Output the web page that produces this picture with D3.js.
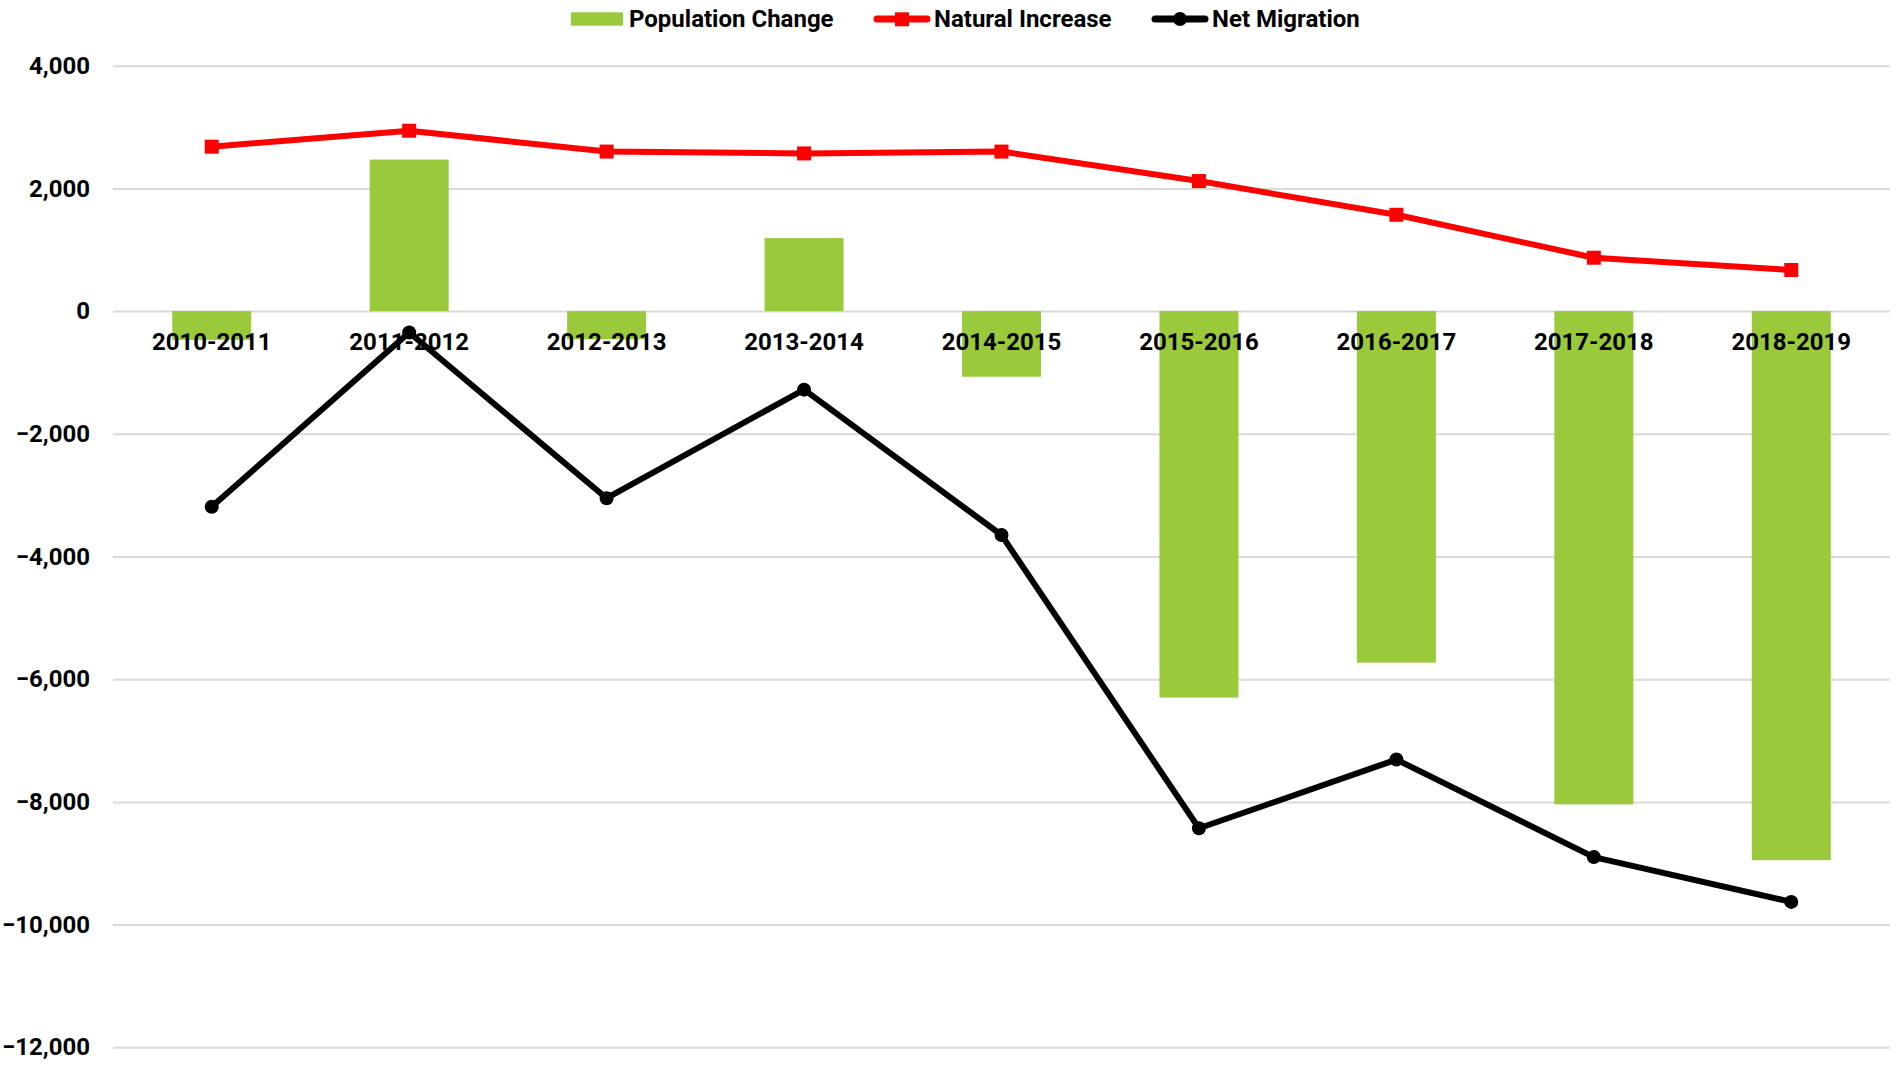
<!DOCTYPE html>
<html>
<head>
<meta charset="utf-8">
<script src="https://cdn.jsdelivr.net/npm/d3@7"></script>
<style>
  body { margin: 0; background: #fff; }
  svg { font-family: Roboto, "Noto Sans", sans-serif; font-weight: bold; }
</style>
</head>
<body>
<div id="chart"></div>
<script>
// Data
const periods = ["2010-2011", "2011-2012", "2012-2013", "2013-2014", "2014-2015",
                 "2015-2016", "2016-2017", "2017-2018", "2018-2019"];
const populationChange = [-470, 2470, -460, 1190, -1070, -6300, -5730, -8040, -8950];
const naturalIncrease = [2680, 2940, 2600, 2570, 2600, 2120, 1570, 870, 670];
const netMigration = [-3190, -350, -3050, -1280, -3650, -8430, -7310, -8900, -9630];
const yTicks = [4000, 2000, 0, -2000, -4000, -6000, -8000, -10000, -12000];

const width = 1896, height = 1067;
const margin = {top: 65.7, right: 6, bottom: 19.7, left: 113};
const GREEN = "#9aca3c", RED = "#ff0000", BLACK = "#000000";
const FONT = "24px";

const svg = d3.select("#chart")
    .append("svg")
    .attr("width", width)
    .attr("height", height);

let x = d3.scaleBand()
    .domain(periods)
    .range([margin.left, width - margin.right])
    .padding(0);

let y = d3.scaleLinear()
    .domain([-12000, 4000])
    .range([height - margin.bottom, margin.top]);

const fmt = d3.format(",");

// Gridlines + y labels
let yAxis = svg.append("g")
    .attr("transform", `translate(${margin.left}, 0)`)
    .call(d3.axisLeft(y).tickValues(yTicks).tickFormat(fmt)
        .tickSize(-(width - margin.left - margin.right)).tickPadding(23));
yAxis.select(".domain").remove();
yAxis.selectAll("line").attr("stroke", "#d9d9d9").attr("stroke-width", 2);
yAxis.selectAll("text")
    .attr("fill", "#000")
    .style("font-size", FONT)
    .style("font-family", "Roboto, sans-serif")
    .style("font-weight", "bold");

// Bars
const barW = x.bandwidth() * 0.4;
svg.append("g").selectAll("rect")
    .data(populationChange)
    .enter()
    .append("rect")
    .attr("fill", GREEN)
    .attr("x", (d, i) => x(periods[i]) + (x.bandwidth() - barW) / 2)
    .attr("y", d => y(Math.max(0, d)))
    .attr("width", barW)
    .attr("height", d => Math.abs(y(d) - y(0)));

// Category labels (sit on the zero line, over the bars)
let xAxis = svg.append("g")
    .attr("transform", `translate(0, ${y(0)})`)
    .call(d3.axisBottom(x).tickSize(0).tickPadding(22));
xAxis.select(".domain").remove();
xAxis.selectAll("text")
    .attr("fill", "#000")
    .style("font-size", FONT)
    .style("font-family", "Roboto, sans-serif")
    .style("font-weight", "bold");

const cx = (d, i) => x(periods[i]) + x.bandwidth() / 2;

// Natural increase line
svg.append("path")
    .datum(naturalIncrease)
    .attr("fill", "none")
    .attr("stroke", RED)
    .attr("stroke-width", 6)
    .attr("stroke-linejoin", "round")
    .attr("d", d3.line().x(cx).y(d => y(d)));
svg.append("g").selectAll("rect")
    .data(naturalIncrease)
    .enter()
    .append("rect")
    .attr("fill", RED)
    .attr("x", (d, i) => cx(d, i) - 7)
    .attr("y", d => y(d) - 7)
    .attr("width", 14)
    .attr("height", 14);

// Net migration line
svg.append("path")
    .datum(netMigration)
    .attr("fill", "none")
    .attr("stroke", BLACK)
    .attr("stroke-width", 6)
    .attr("stroke-linejoin", "round")
    .attr("d", d3.line().x(cx).y(d => y(d)));
svg.append("g").selectAll("circle")
    .data(netMigration)
    .enter()
    .append("circle")
    .attr("fill", BLACK)
    .attr("cx", cx)
    .attr("cy", d => y(d))
    .attr("r", 7);

// Legend
let legend = svg.append("g").style("font-size", FONT);
legend.append("rect")
    .attr("x", 571).attr("y", 12.3)
    .attr("width", 52).attr("height", 13.4)
    .attr("fill", GREEN);
legend.append("text").attr("x", 629).attr("y", 27).text("Population Change");

legend.append("line")
    .attr("x1", 877).attr("x2", 927).attr("y1", 19).attr("y2", 19)
    .attr("stroke", RED).attr("stroke-width", 7).attr("stroke-linecap", "round");
legend.append("rect")
    .attr("x", 895).attr("y", 12.3).attr("width", 14).attr("height", 14)
    .attr("fill", RED);
legend.append("text").attr("x", 934).attr("y", 27).text("Natural Increase");

legend.append("line")
    .attr("x1", 1155).attr("x2", 1205).attr("y1", 19).attr("y2", 19)
    .attr("stroke", BLACK).attr("stroke-width", 7).attr("stroke-linecap", "round");
legend.append("circle")
    .attr("cx", 1180).attr("cy", 19).attr("r", 7)
    .attr("fill", BLACK);
legend.append("text").attr("x", 1212).attr("y", 27).text("Net Migration");
</script>
</body>
</html>
